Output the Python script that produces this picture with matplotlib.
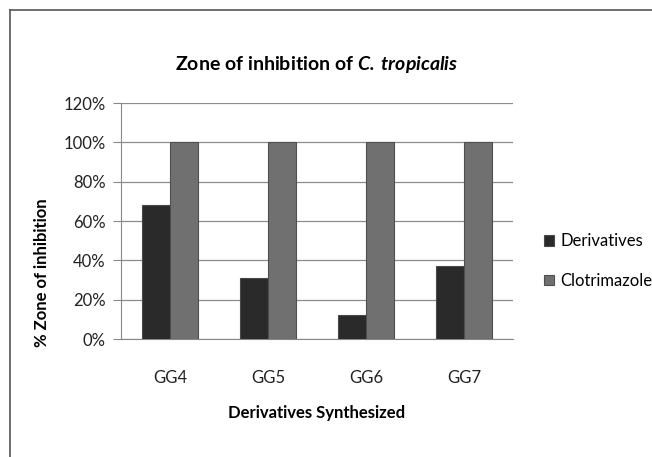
import numpy as np
import matplotlib.pyplot as plt
from matplotlib.lines import Line2D
from matplotlib.ticker import PercentFormatter

plt.rcParams['font.family'] = ['Lato', 'DejaVu Sans']
plt.rcParams['mathtext.fontset'] = 'custom'
plt.rcParams['mathtext.rm'] = 'Lato'
plt.rcParams['mathtext.bf'] = 'Lato:bold'
plt.rcParams['mathtext.bfit'] = 'Lato:bold:italic'

# Données
categories = ['GG4', 'GG5', 'GG6', 'GG7']
derivatives = [68, 31, 12, 37]
clotrimazole = [100, 100, 100, 100]

fig = plt.figure(figsize=(6.52, 4.57), dpi=100)
ax = fig.add_axes([121/652, 1 - 339/457, 392/652, 236/457])

x = np.arange(len(categories))
w = 0.29
ax.bar(x - w/2, derivatives, w, color='#2a2a2a', edgecolor='#4a4a4a', linewidth=0.8,
       label='Derivatives', zorder=3)
ax.bar(x + w/2, clotrimazole, w, color='#707070', edgecolor='#4f4f4f', linewidth=0.8,
       label='Clotrimazole', zorder=3)

ax.set_xlim(-0.5, len(categories) - 0.5)
ax.set_ylim(0, 120)
ax.set_yticks(np.arange(0, 121, 20))
ax.yaxis.set_major_formatter(PercentFormatter(decimals=0))
ax.set_xticks(x)
ax.set_xticklabels(categories)
ax.tick_params(axis='both', labelsize=12, colors='#222222')
ax.tick_params(axis='x', length=0, pad=22)
ax.tick_params(axis='y', length=6, color='#888888', direction='out', pad=5)
ax.grid(axis='y', color='#8c8c8c', linewidth=0.9, zorder=0)
for s in ['top', 'right']:
    ax.spines[s].set_visible(False)
ax.spines['left'].set_color('#888888')
ax.spines['bottom'].set_color('#888888')

ax.set_title(r'Zone of inhibition of $\mathbfit{C.\,tropicalis}$', fontsize=14,
             fontweight='bold', pad=24)
ax.set_xlabel('Derivatives Synthesized', fontsize=12, fontweight='bold', labelpad=14)
ax.set_ylabel('% Zone of inhibition', fontsize=12, fontweight='bold')
ax.yaxis.set_label_coords(-0.18, 0.28)

ax.legend(loc='center left', bbox_to_anchor=(1.04, 0.33), frameon=False, fontsize=12,
          handlelength=0.6, handleheight=0.6, handletextpad=0.4, labelspacing=1.4)

# cadre du graphique (bord gauche et haut)
fig.add_artist(Line2D([10/652, 10/652], [0, 1 - 10/457], color='#555555', linewidth=1.2,
                      transform=fig.transFigure))
fig.add_artist(Line2D([10/652, 1], [1 - 10/457, 1 - 10/457], color='#555555', linewidth=1.2,
                      transform=fig.transFigure))

fig.savefig('out.png', dpi=100)
